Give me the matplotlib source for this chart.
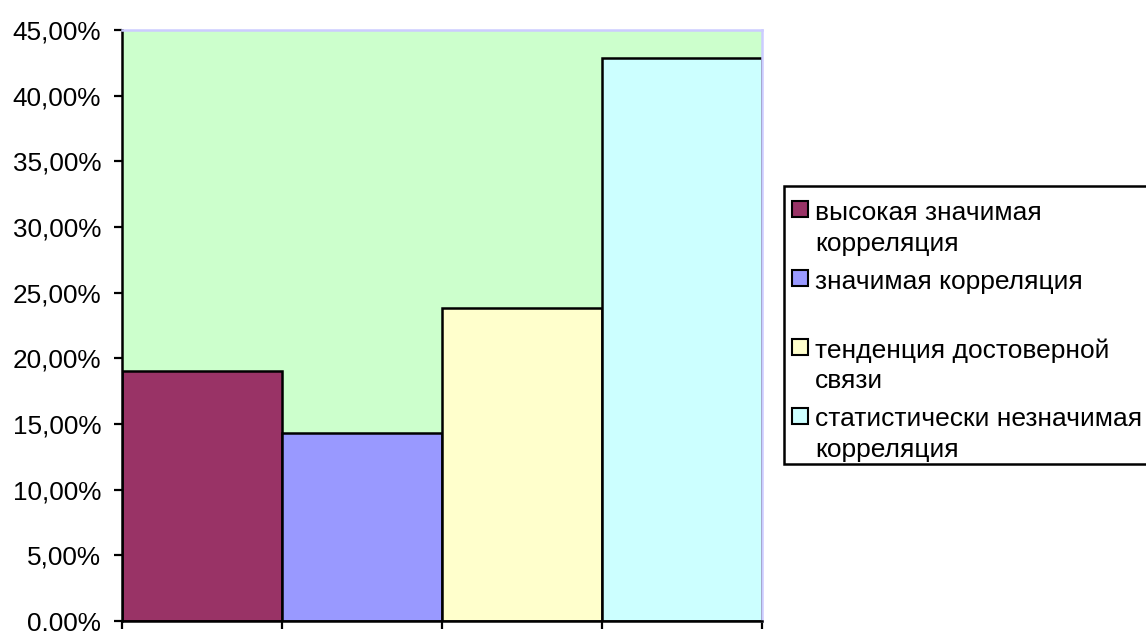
import matplotlib
matplotlib.use('Agg')
from matplotlib import pyplot as plt
from matplotlib.patches import Rectangle
from matplotlib.ticker import FuncFormatter, FixedLocator

# data
categories = ['высокая значимая\nкорреляция', 'значимая корреляция',
              'тенденция достоверной\nсвязи', 'статистически незначимая\nкорреляция']
values = [19.05, 14.29, 23.81, 42.86]
bar_colors = ['#993366', '#9999FF', '#FFFFCC', '#CCFFFF']
y_ticks = [0, 5, 10, 15, 20, 25, 30, 35, 40, 45]

W, H = 1146, 631
plt.rcParams['font.family'] = ['Liberation Sans', 'DejaVu Sans']

fig = plt.figure(figsize=(W / 100, H / 100), dpi=100)
ax = fig.add_axes([122 / W, 1 - 621 / H, (762 - 122) / W, (621 - 30) / H])
ax.set_facecolor('#CCFFCC')

xs = list(range(len(values)))
ax.bar(xs, values, width=1.0, color=bar_colors, edgecolor='black', linewidth=1.8, zorder=3)

ax.set_xlim(-0.5, len(values) - 0.5)
ax.set_ylim(0, 45)
ax.set_yticks(y_ticks)
ax.yaxis.set_major_formatter(FuncFormatter(lambda v, p: f'{v:.2f}%'.replace('.', ',')))
ax.xaxis.set_major_locator(FixedLocator([x - 0.5 for x in range(len(values) + 1)]))
ax.set_xticklabels([])
ax.tick_params(axis='y', labelsize=18.8, length=6, width=1.6, direction='out', pad=9)
ax.tick_params(axis='x', length=6, width=1.6, direction='out')

for side in ('left', 'bottom'):
    ax.spines[side].set_color('black')
    ax.spines[side].set_linewidth(1.8)
for side in ('top', 'right'):
    ax.spines[side].set_color('#CCCCFF')
    ax.spines[side].set_linewidth(1.8)
for s in ax.spines.values():
    s.set_zorder(4)

# legend drawn by hand to match the original layout
def fx(px):
    return px / W

def fy(py):
    return 1 - py / H

fig.patches.append(Rectangle((fx(784), fy(464)), fx(1160) - fx(784), fy(186) - fy(464),
                             transform=fig.transFigure, facecolor='white',
                             edgecolor='black', linewidth=1.8))
row_y = [209, 278, 347, 416]
for label, color, y in zip(categories, bar_colors, row_y):
    fig.patches.append(Rectangle((fx(792), fy(y + 8)), fx(16), 16 / H,
                                 transform=fig.transFigure, facecolor=color,
                                 edgecolor='black', linewidth=1.5))
    lines = label.split('\n')
    for i, line in enumerate(lines):
        fig.text(fx(815), fy(y + 31 * i + 1), line, fontsize=19, va='center_baseline', ha='left')

fig.savefig('out.png', dpi=100)
